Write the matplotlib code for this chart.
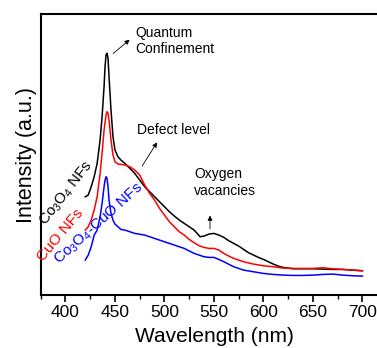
import matplotlib
matplotlib.use("Agg")
import matplotlib.pyplot as plt
from matplotlib.ticker import MultipleLocator

plt.rcParams['font.family'] = ['Liberation Sans', 'DejaVu Sans']
plt.rcParams['mathtext.fontset'] = 'custom'
plt.rcParams['mathtext.rm'] = 'Liberation Sans'
plt.rcParams['mathtext.default'] = 'regular'

# Co3O4 NFs (black)
w_co3o4 = [420, 423, 426, 429, 432, 435, 437, 439, 440, 441, 442, 443, 444, 446, 448,
           450, 453, 456, 460, 465, 470, 475, 480, 485, 490, 495, 500, 505, 510, 515,
           520, 525, 530, 533, 536, 540, 545, 550, 555, 560, 565, 570, 575, 580, 585,
           590, 595, 600, 605, 610, 615, 620, 630, 640, 650, 660, 670, 680, 690, 700]
i_co3o4 = [296, 301, 326, 356, 396, 466, 536, 626, 686, 721, 726, 711, 656, 556, 476,
           436, 416, 406, 396, 381, 366, 346, 326, 311, 296, 281, 266, 251, 238, 226,
           216, 206, 196, 186, 176, 178, 184, 186, 181, 174, 164, 156, 148, 138, 128,
           121, 114, 108, 101, 94, 88, 84, 80, 80, 80, 79, 78, 78, 76, 74]

# CuO NFs (red)
w_cuo = [420, 423, 426, 429, 432, 435, 437, 439, 441, 442, 443, 444, 446, 448, 450,
         453, 456, 460, 465, 470, 475, 480, 485, 490, 495, 500, 505, 510, 515, 520,
         525, 530, 535, 540, 545, 550, 555, 560, 565, 570, 580, 590, 600, 610, 620,
         630, 640, 650, 660, 670, 680, 690, 700]
i_cuo = [196, 206, 226, 256, 296, 366, 426, 496, 541, 551, 546, 526, 466, 421, 401,
         394, 393, 391, 386, 376, 361, 331, 306, 286, 261, 241, 221, 206, 191, 181,
         168, 158, 149, 144, 141, 141, 136, 126, 118, 111, 101, 94, 89, 86, 82,
         81, 81, 81, 83, 80, 78, 76, 74]

# Co3O4-CuO NFs (blue)
w_mix = [420, 423, 426, 429, 432, 435, 437, 439, 440, 441, 442, 443, 444, 446, 448,
         450, 453, 456, 460, 465, 470, 480, 490, 500, 510, 520, 530, 540, 545, 550,
         555, 560, 570, 580, 590, 600, 610, 620, 630, 640, 650, 660, 670, 680, 690, 700]
i_mix = [106, 121, 146, 181, 196, 236, 276, 326, 346, 356, 351, 326, 286, 246, 226,
         214, 206, 198, 196, 191, 186, 181, 171, 161, 151, 141, 126, 116, 114, 114,
         108, 101, 86, 76, 71, 66, 63, 61, 60, 60, 61, 63, 64, 61, 59, 58]

fig = plt.figure(figsize=(3.77, 3.48), dpi=100)
ax = fig.add_axes([0.108, 0.151, 0.919, 0.809])

ax.plot(w_co3o4, i_co3o4, color='black', lw=1.1)
ax.plot(w_cuo, i_cuo, color='red', lw=1.1)
ax.plot(w_mix, i_mix, color='blue', lw=1.1)

ax.set_xlim(375, 725)
ax.set_ylim(0, 844)
ax.xaxis.set_major_locator(MultipleLocator(50))
ax.xaxis.set_minor_locator(MultipleLocator(25))
ax.set_yticks([])
ax.tick_params(axis='x', which='major', direction='out', length=5, width=1.2,
               labelsize=12.5, pad=2)
ax.tick_params(axis='x', which='minor', direction='out', length=3, width=1.0)
for s in ax.spines.values():
    s.set_linewidth(1.5)

ax.set_xlabel('Wavelength (nm)', fontsize=15, labelpad=5)
ax.set_ylabel('Intensity (a.u.)', fontsize=15.5, labelpad=3)

# curve labels
ax.text(380, 208, r'Co$_3$O$_4$ NFs', color='black', fontsize=11,
        rotation=52, rotation_mode='anchor')
ax.text(377, 101, 'CuO NFs', color='red', fontsize=11,
        rotation=50, rotation_mode='anchor')
ax.text(394, 91, r'Co$_3$O$_4$-CuO NFs', color='blue', fontsize=11,
        rotation=42, rotation_mode='anchor')

# annotations
arrow = dict(arrowstyle='-|>', color='black', lw=0.6, mutation_scale=7)
ax.annotate('', xy=(467, 772), xytext=(446, 720), arrowprops=arrow)
ax.text(471, 763, 'Quantum\nConfinement', fontsize=10, va='center',
        linespacing=1.25)
ax.annotate('', xy=(494, 466), xytext=(476, 381), arrowprops=arrow)
ax.text(472, 496, 'Defect level', fontsize=10, va='center')
ax.annotate('', xy=(546, 248), xytext=(546, 191), arrowprops=arrow)
ax.text(530, 338, 'Oxygen\nvacancies', fontsize=10, va='center',
        linespacing=1.25)

fig.savefig('out.png', dpi=100)
